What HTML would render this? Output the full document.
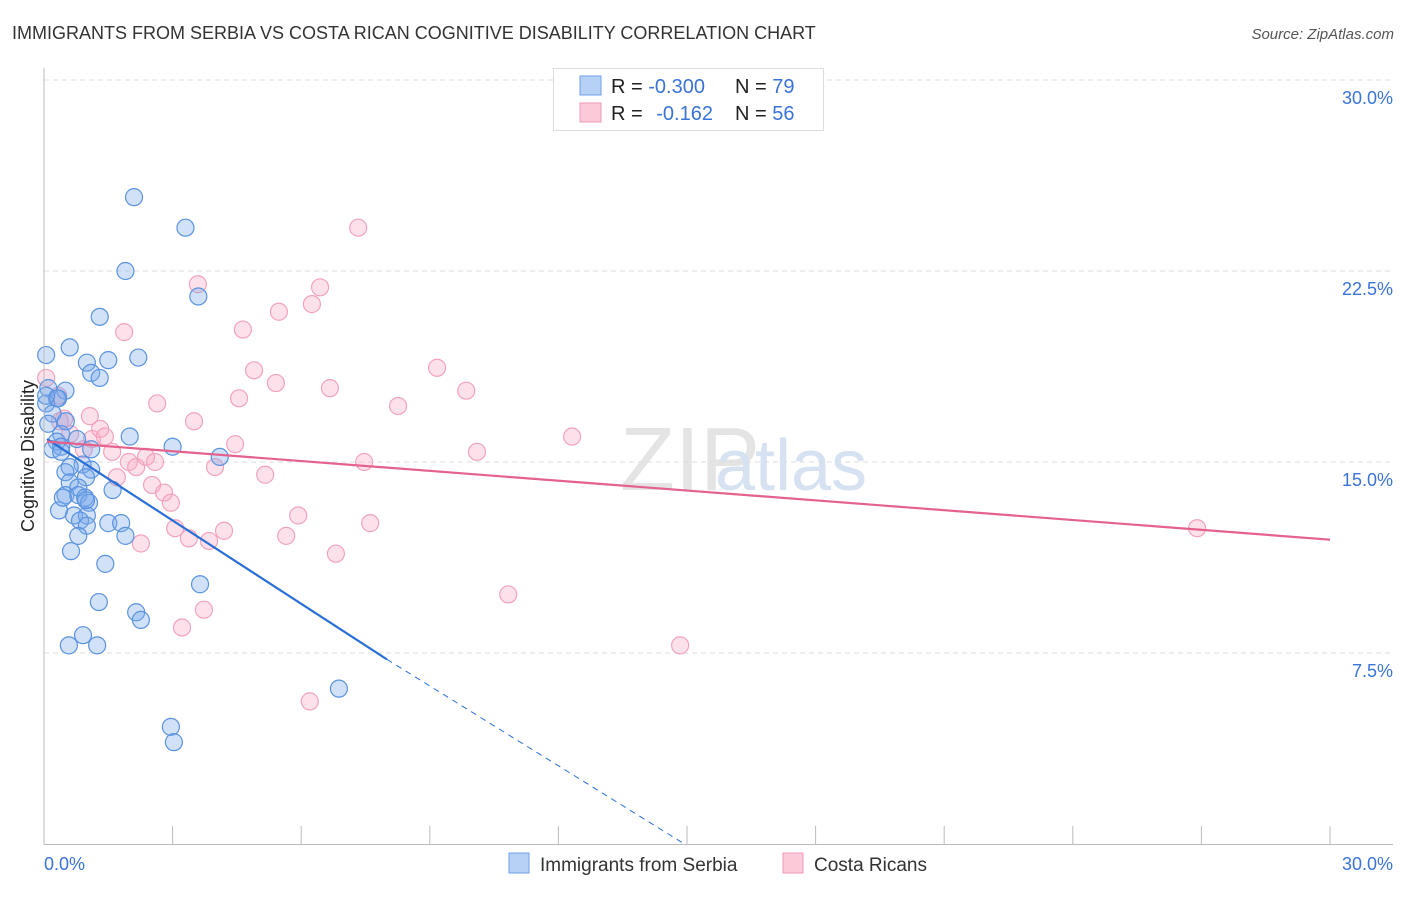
<!DOCTYPE html>
<html><head><meta charset="utf-8"><style>
body{margin:0;background:#fff;width:1406px;height:892px;overflow:hidden;font-family:"Liberation Sans",sans-serif}
svg text{font-family:"Liberation Sans",sans-serif}
</style></head><body>
<svg id="chart" width="1406" height="892" xmlns="http://www.w3.org/2000/svg">
<text x="12" y="39" font-size="18" fill="#333">IMMIGRANTS FROM SERBIA VS COSTA RICAN COGNITIVE DISABILITY CORRELATION CHART</text>
<text x="1394" y="39" font-size="15" fill="#555" font-style="italic" text-anchor="end">Source: ZipAtlas.com</text>
<text x="620" y="490" font-size="90" fill="#e4e4e4" font-family="Liberation Serif">ZIP</text>
<text x="715" y="490" font-size="72" fill="#d6e2f2">atlas</text>
<text transform="translate(34,456) rotate(-90)" font-size="18" fill="#222" text-anchor="middle">Cognitive Disability</text>
<g id="grid"></g><g id="ticks"></g><g id="pts"></g><g id="trend"></g>
<line x1="44" y1="68" x2="44" y2="845" stroke="#bbb"/>
<line x1="44" y1="844.5" x2="1393" y2="844.5" stroke="#bbb"/>
<text x="44" y="870" font-size="18" fill="#3a73d9">0.0%</text>
<text x="1393" y="870" font-size="18" fill="#3a73d9" text-anchor="end">30.0%</text>
<g>
<rect x="553.5" y="68.5" width="270" height="62" fill="#fff" stroke="#ddd"/>
<rect x="580" y="76" width="21" height="19" fill="#b7d1f5" stroke="#6e9fe6"/>
<rect x="580" y="103" width="21" height="19" fill="#fcc9d8" stroke="#f09ab4"/>
<text x="611" y="93" font-size="20" fill="#222">R = <tspan fill="#3a73d9">-0.300</tspan></text>
<text x="735" y="93" font-size="20" fill="#222">N = <tspan fill="#3a73d9">79</tspan></text>
<text x="611" y="120" font-size="20" fill="#222">R = <tspan fill="#3a73d9" dx="8">-0.162</tspan></text>
<text x="735" y="120" font-size="20" fill="#222">N = <tspan fill="#3a73d9">56</tspan></text>
</g>
<g>
<rect x="509" y="853" width="20" height="20" fill="#b7d1f5" stroke="#6e9fe6"/>
<text x="540" y="871" font-size="19" fill="#333">Immigrants from Serbia</text>
<rect x="783" y="853" width="20" height="20" fill="#fcc9d8" stroke="#f09ab4"/>
<text x="814" y="871" font-size="19" fill="#333">Costa Ricans</text>
</g>
</svg>
<script>
const yTicks=[7.5,15,22.5,30];
const yTickLabels=["7.5%","15.0%","22.5%","30.0%"];
const xTicks=[0,3,6,9,12,15,18,21,24,27,30];
const serbiaX=[2.1,3.3,1.9,3.6,1.3,0.6,0.05,1.0,1.5,2.2,1.1,1.3,0.1,0.5,0.3,0.05,0.2,0.1,0.4,2.0,0.3,0.4,0.2,3.0,1.1,0.4,4.1,0.9,0.6,1.1,0.5,0.98,0.6,0.8,1.6,0.5,0.8,0.96,1.05,0.35,0.7,1.0,0.84,1.5,1.8,1.0,0.8,1.9,0.63,1.43,3.64,1.28,2.15,2.26,0.91,0.58,1.24,6.88,2.96,3.03,0.51,0.77,0.33,0.05,0.98,0.44];
const serbiaY=[25.4,24.2,22.5,21.5,20.7,19.5,19.2,18.9,19.0,19.1,18.5,18.3,17.9,17.8,17.5,17.3,16.9,16.5,16.1,16.0,15.8,15.6,15.5,15.6,15.5,15.4,15.2,14.9,14.8,14.7,14.6,14.4,14.2,14.0,13.9,13.7,13.7,13.6,13.4,13.1,12.9,12.9,12.7,12.6,12.6,12.5,12.1,12.1,11.5,11.0,10.2,9.5,9.1,8.8,8.2,7.8,7.8,6.1,4.6,4.0,16.6,15.9,17.5,17.6,13.5,13.6];
const costaX=[7.33,3.59,6.44,5.48,6.25,1.87,4.64,4.9,9.17,5.41,9.85,6.67,4.55,2.64,8.26,0.05,0.47,3.5,1.12,1.31,4.46,12.32,0.93,1.59,10.1,2.38,2.59,1.98,2.15,7.47,3.99,5.16,1.7,2.8,2.96,5.93,3.06,4.2,3.38,5.65,7.61,2.26,3.85,6.81,10.83,3.73,3.22,14.84,6.2,26.9,0.33,0.61,1.42,1.07,2.52,0.37];
const costaY=[24.2,21.98,21.86,20.9,21.2,20.1,20.2,18.6,18.7,18.1,17.8,17.9,17.5,17.3,17.2,18.3,16.7,16.6,15.9,16.3,15.7,16.0,15.5,15.4,15.4,15.2,15.0,15.0,14.8,15.0,14.8,14.5,14.4,13.8,13.4,12.9,12.4,12.3,12.0,12.1,12.6,11.8,11.9,11.4,9.8,9.2,8.5,7.8,5.6,12.4,17.6,16.1,16.0,16.8,14.1,16.6];
const serbiaTrend=[[0.07,15.9],[8.0,7.25],[14.94,0]];
const costaTrend=[[0.07,15.8],[30,11.95]];
const NS="http://www.w3.org/2000/svg";
const X=v=>44+v/30*1286, Y=v=>844-v/30*764;
function mk(t,a,p){const e=document.createElementNS(NS,t);for(const k in a)e.setAttribute(k,a[k]);p.appendChild(e);return e;}
const grid=document.getElementById('grid');
yTicks.forEach((t,i)=>{
 const l=mk('line',{x1:44,x2:1393,y1:Y(t),y2:Y(t),stroke:'#ddd','stroke-dasharray':'5,4'},grid);
 
 
 const tx=mk('text',{x:1393,y:Y(t)+24,'font-size':18,fill:'#3a73d9','text-anchor':'end'},grid);
 tx.textContent=yTickLabels[i];
 
 
});
const tk=document.getElementById('ticks');
xTicks.forEach(t=>{
 const l=mk('line',{x1:X(t),x2:X(t),y1:826,y2:844,stroke:'#bbb'},tk);
 
 
});
const pts=document.getElementById('pts');
costaX.forEach((v,i)=>{
 const c=mk('circle',{cx:X(v),cy:Y(costaY[i]),r:8.5,fill:'rgba(248,170,195,0.35)',stroke:'#f2a3bc','stroke-width':1.2},pts);
 
 
});
serbiaX.forEach((v,i)=>{
 const c=mk('circle',{cx:X(v),cy:Y(serbiaY[i]),r:8.5,fill:'rgba(120,170,235,0.35)',stroke:'#5b93e0','stroke-width':1.2},pts);
 
 
});
const tr=document.getElementById('trend');
let a=mk('line',{x1:X(serbiaTrend[0][0]),y1:Y(serbiaTrend[0][1]),x2:X(serbiaTrend[1][0]),y2:Y(serbiaTrend[1][1]),stroke:'#2a6fd6','stroke-width':2.2},tr);


a=mk('line',{x1:X(serbiaTrend[1][0]),y1:Y(serbiaTrend[1][1]),x2:X(serbiaTrend[2][0]),y2:Y(serbiaTrend[2][1]),stroke:'#2a6fd6','stroke-width':1,'stroke-dasharray':'6,5'},tr);


a=mk('line',{x1:X(costaTrend[0][0]),y1:Y(costaTrend[0][1]),x2:X(costaTrend[1][0]),y2:Y(costaTrend[1][1]),stroke:'#e5628c','stroke-width':2.2},tr);


</script>
</body></html>
